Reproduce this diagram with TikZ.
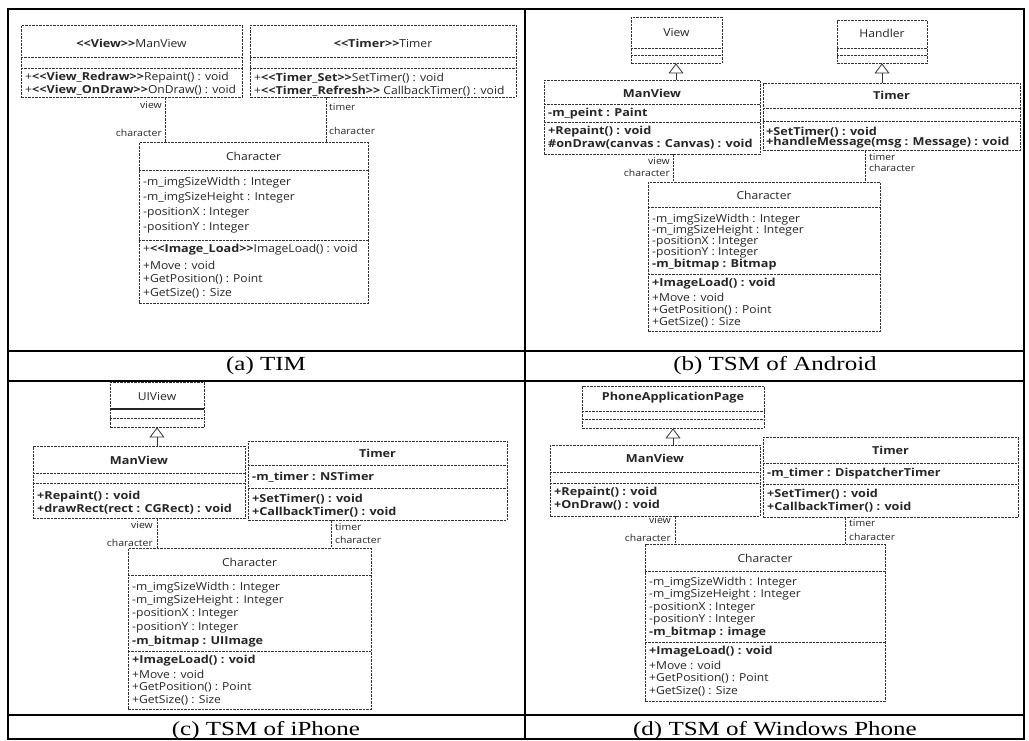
\documentclass[tikz,border=0pt]{standalone}
\usepackage{fontspec}
\usepackage{graphicx}
\usetikzlibrary{fit,arrows.meta}
\newfontfamily\umlfont[UprightFeatures={FakeStretch=1.1},BoldFeatures={FakeStretch=1.15}]{Open Sans}
\newfontfamily\capfont{Liberation Serif}
\tikzset{
 ubox/.style={draw=black!80, line width=0.8pt, dash pattern=on 2.5pt off 1pt, inner sep=0pt},
 usep/.style={draw=black!80, line width=0.8pt, dash pattern=on 2.5pt off 1pt},
 ut/.style={anchor=west, inner sep=0pt, font=\umlfont\fontsize{11}{13}\selectfont, text=black!85},
 utc/.style={ut, anchor=center},
 lbl/.style={ut, font=\umlfont\fontsize{9.5}{11}\selectfont},
 lblr/.style={lbl, anchor=east},
 assoc/.style={draw=black!80, line width=0.8pt, dash pattern=on 2.5pt off 1pt},
 inh/.style={draw=black!80, line width=0.8pt, -{Triangle[open, length=10pt, width=15pt]}},
 tabline/.style={draw=black, line width=1.3pt},
 captext/.style={inner sep=0pt, font=\capfont\fontsize{20}{24}\selectfont},
}
\newcommand{\ubx}[5]{\node[ubox, fit={(#2,#3) (#4,#5)}] (#1) {};}
\newcommand{\usp}[2]{\draw[usep] (#1.west |- 0,#2) -- (#1.east |- 0,#2);}
\newcommand{\tl}[4]{\node[ut] (#1) at (#2,#3) {#4};}
\newcommand{\tc}[4]{\node[utc] (#1) at (#2,#3) {#4};}
\newcommand{\st}[1]{\textbf{<{}<#1>{}>}}
\begin{document}
\begin{tikzpicture}[x=1pt,y=-1pt]
\useasboundingbox (0,0) rectangle (1029,740);
\fill[white] (0,0) rectangle (1029,740);
% table
\draw[tabline] (8,9) rectangle (1024,739);
\draw[tabline] (525,9) -- (525,739);
\draw[tabline] (8,351) -- (1024,351);
\draw[tabline] (8,381) -- (1024,381);
\draw[tabline] (8,715) -- (1024,715);
\node[captext] (capa) at (266,366) {\scalebox{1.25}[1]{(a) TIM}};
\node[captext] (capb) at (775,366) {\scalebox{1.25}[1]{(b) TSM of Android}};
\node[captext] (capc) at (266,731) {\scalebox{1.25}[1]{(c) TSM of iPhone}};
\node[captext] (capd) at (775,731) {\scalebox{1.25}[1]{(d) TSM of Windows Phone}};

% ===== (a) TIM =====
\ubx{mva}{21}{25}{242}{97}
\tc{mvat}{131.5}{43}{\st{View}ManView}
\usp{mva}{57}\usp{mva}{68}
\tl{mvam1}{25}{78}{+\st{View\_Redraw}Repaint() : void}
\tl{mvam2}{25}{90}{+\st{View\_OnDraw}OnDraw() : void}

\ubx{tma}{250}{25}{516}{97}
\tc{tmat}{383}{43}{\st{Timer}Timer}
\usp{tma}{57}\usp{tma}{68}
\tl{tmam1}{254}{78}{+\st{Timer\_Set}SetTimer() : void}
\tl{tmam2}{254}{91}{+\st{Timer\_Refresh} CallbackTimer() : void}

\ubx{cha}{139}{142}{368}{303}
\tc{chat}{253.5}{156}{Character}
\usp{cha}{170}
\tl{chaa1}{143}{183}{-m\_imgSizeWidth : Integer}
\tl{chaa2}{143}{198}{-m\_imgSizeHeight : Integer}
\tl{chaa3}{143}{213}{-positionX : Integer}
\tl{chaa4}{143}{228}{-positionY : Integer}
\usp{cha}{240}
\tl{cham1}{143}{250}{+\st{Image\_Load}ImageLoad() : void}
\tl{cham2}{143}{265}{+Move : void}
\tl{cham3}{143}{279}{+GetPosition() : Point}
\tl{cham4}{143}{293}{+GetSize() : Size}

\draw[assoc] (mva.south -| 165,0) -- (cha.north -| 165,0);
\node[lblr] (la1) at (162,105) {view};
\node[lblr] (la2) at (162,133) {character};
\draw[assoc] (tma.south -| 326,0) -- (cha.north -| 326,0);
\node[lbl] (la3) at (329,107) {timer};
\node[lbl] (la4) at (329,131) {character};

% ===== (b) Android =====
\ubx{vwb}{631}{17}{722}{63}
\tc{vwbt}{676.5}{33}{View}
\usp{vwb}{48}\usp{vwb}{55}

\ubx{mvb}{544}{80}{760}{154}
\tc{mvbt}{652}{93}{\textbf{ManView}}
\usp{mvb}{104}
\tl{mvba1}{548}{114}{\textbf{-m\_peint : Paint}}
\usp{mvb}{122}
\tl{mvbm1}{548}{132}{\textbf{+Repaint() : void}}
\tl{mvbm2}{548}{144}{\textbf{\#onDraw(canvas : Canvas) : void}}
\draw[inh] (mvb.north -| 676,0) -- (vwb.south -| 676,0);

\ubx{hdb}{837}{20}{927}{63}
\tc{hdbt}{882}{33}{Handler}
\usp{hdb}{48}\usp{hdb}{55}

\ubx{tmb}{763}{83}{1020}{150}
\tc{tmbt}{891.5}{95}{\textbf{Timer}}
\usp{tmb}{108}\usp{tmb}{121}
\tl{tmbm1}{766}{132}{\textbf{+SetTimer() : void}}
\tl{tmbm2}{766}{143}{\textbf{+handleMessage(msg : Message) : void}}
\draw[inh] (tmb.north -| 882,0) -- (hdb.south -| 882,0);

\ubx{chb}{648}{182}{880}{331}
\tc{chbt}{764}{195}{Character}
\usp{chb}{207}
\tl{chba1}{652}{220}{-m\_imgSizeWidth : Integer}
\tl{chba2}{652}{231}{-m\_imgSizeHeight : Integer}
\tl{chba3}{652}{242}{-positionX : Integer}
\tl{chba4}{652}{253}{-positionY : Integer}
\tl{chba5}{652}{265}{\textbf{-m\_bitmap : Bitmap}}
\usp{chb}{274}
\tl{chbm1}{652}{284}{\textbf{+ImageLoad() : void}}
\tl{chbm2}{652}{297}{+Move : void}
\tl{chbm3}{652}{310}{+GetPosition() : Point}
\tl{chbm4}{652}{322}{+GetSize() : Size}

\draw[assoc] (mvb.south -| 673,0) -- (chb.north -| 673,0);
\node[lblr] (lb1) at (670,161) {view};
\node[lblr] (lb2) at (670,173) {character};
\draw[assoc] (tmb.south -| 865,0) -- (chb.north -| 865,0);
\node[lbl] (lb3) at (869,157) {timer};
\node[lbl] (lb4) at (869,168) {character};

% ===== (c) iPhone =====
\ubx{uvc}{110}{382}{204}{427}
\tc{uvct}{157}{397}{UIView}
\draw[draw=black!85, line width=1.1pt] (uvc.west |- 0,409) -- (uvc.east |- 0,409);
\usp{uvc}{418}

\ubx{mvc}{33}{446}{245}{518}
\tc{mvct}{139}{460}{\textbf{ManView}}
\usp{mvc}{473}\usp{mvc}{483}
\tl{mvcm1}{37}{497}{\textbf{+Repaint() : void}}
\tl{mvcm2}{37}{509}{\textbf{+drawRect(rect : CGRect) : void}}
\draw[inh] (mvc.north -| 157,0) -- (uvc.south -| 157,0);

\ubx{tmc}{248}{441}{507}{520}
\tc{tmct}{377.5}{453}{\textbf{Timer}}
\usp{tmc}{465}
\tl{tmca1}{252}{477}{\textbf{-m\_timer : NSTimer}}
\usp{tmc}{488}
\tl{tmcm1}{252}{499}{\textbf{+SetTimer() : void}}
\tl{tmcm2}{252}{512}{\textbf{+CallbackTimer() : void}}

\ubx{chc}{128}{548}{371}{709}
\tc{chct}{249.5}{562}{Character}
\usp{chc}{575}
\tl{chca1}{132}{588}{-m\_imgSizeWidth : Integer}
\tl{chca2}{132}{601}{-m\_imgSizeHeight : Integer}
\tl{chca3}{132}{614}{-positionX : Integer}
\tl{chca4}{132}{628}{-positionY : Integer}
\tl{chca5}{132}{642}{\textbf{-m\_bitmap : UIImage}}
\usp{chc}{651}
\tl{chcm1}{132}{661}{\textbf{+ImageLoad() : void}}
\tl{chcm2}{132}{674}{+Move : void}
\tl{chcm3}{132}{687}{+GetPosition() : Point}
\tl{chcm4}{132}{700}{+GetSize() : Size}

\draw[assoc] (mvc.south -| 157,0) -- (chc.north -| 157,0);
\node[lblr] (lc1) at (153,525) {view};
\node[lblr] (lc2) at (153,543) {character};
\draw[assoc] (tmc.south -| 331,0) -- (chc.north -| 331,0);
\node[lbl] (lc3) at (335,527) {timer};
\node[lbl] (lc4) at (335,540) {character};

% ===== (d) Windows Phone =====
\ubx{pad}{582}{386}{764}{428}
\tc{padt}{673}{398}{\textbf{PhoneApplicationPage}}
\usp{pad}{411}\usp{pad}{419}

\ubx{mvd}{550}{445}{760}{516}
\tc{mvdt}{655}{458}{\textbf{ManView}}
\usp{mvd}{472}\usp{mvd}{483}
\tl{mvdm1}{554}{493}{\textbf{+Repaint() : void}}
\tl{mvdm2}{554}{505}{\textbf{+OnDraw() : void}}
\draw[inh] (mvd.north -| 673,0) -- (pad.south -| 673,0);

\ubx{tmd}{763}{437}{1018}{517}
\tc{tmdt}{890.5}{450}{\textbf{Timer}}
\usp{tmd}{463}
\tl{tmda1}{767}{474}{\textbf{-m\_timer : DispatcherTimer}}
\usp{tmd}{484}
\tl{tmdm1}{767}{494}{\textbf{+SetTimer() : void}}
\tl{tmdm2}{767}{507}{\textbf{+CallbackTimer() : void}}

\ubx{chd}{645}{544}{885}{701}
\tc{chdt}{765}{558}{Character}
\usp{chd}{571}
\tl{chda1}{649}{583}{-m\_imgSizeWidth : Integer}
\tl{chda2}{649}{595}{-m\_imgSizeHeight : Integer}
\tl{chda3}{649}{608}{-positionX : Integer}
\tl{chda4}{649}{620}{-positionY : Integer}
\tl{chda5}{649}{633}{\textbf{-m\_bitmap : image}}
\usp{chd}{642}
\tl{chdm1}{649}{652}{\textbf{+ImageLoad() : void}}
\tl{chdm2}{649}{665}{+Move : void}
\tl{chdm3}{649}{678}{+GetPosition() : Point}
\tl{chdm4}{649}{691}{+GetSize() : Size}

\draw[assoc] (mvd.south -| 675,0) -- (chd.north -| 675,0);
\node[lblr] (ld1) at (671,520) {view};
\node[lblr] (ld2) at (671,538) {character};
\draw[assoc] (tmd.south -| 845,0) -- (chd.north -| 845,0);
\node[lbl] (ld3) at (849,523) {timer};
\node[lbl] (ld4) at (849,537) {character};
\end{tikzpicture}
\end{document}
